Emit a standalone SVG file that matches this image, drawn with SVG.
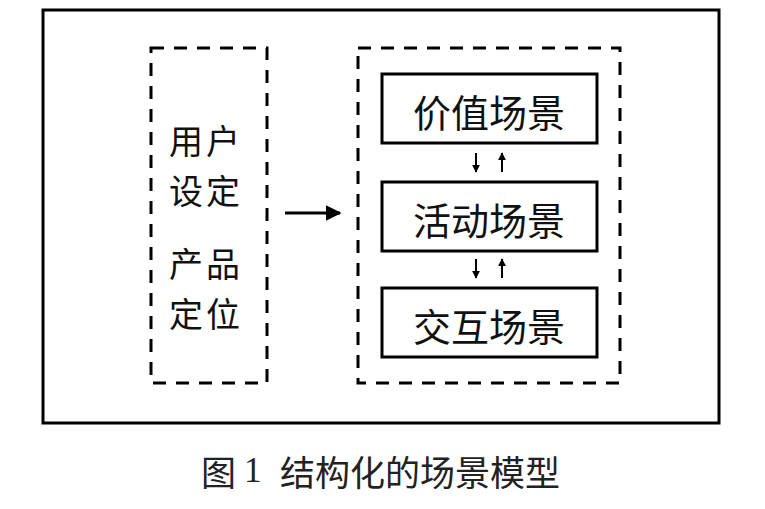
<svg xmlns="http://www.w3.org/2000/svg" width="765" height="509" viewBox="0 0 765 509">
<defs>
<style>
.dash{fill:none;stroke:#000;stroke-width:3;stroke-dasharray:13 10}
.box{fill:#fff;stroke:#000;stroke-width:3}
.t{font-family:"Noto Sans CJK SC","Liberation Serif",serif;font-size:38px;fill:#111;text-anchor:middle;dominant-baseline:central}
.lt{font-family:"Noto Sans CJK SC","Liberation Serif",serif;font-size:34px;letter-spacing:3px;fill:#111;dominant-baseline:central}
.cap{font-family:"Noto Sans CJK SC","Liberation Serif",sans-serif;font-size:35px;fill:#222;dominant-baseline:central}
.sm{stroke:#000;stroke-width:2;fill:none}
</style>
<marker id="ah" viewBox="0 0 10 10" refX="9" refY="5" markerWidth="16" markerHeight="16" markerUnits="userSpaceOnUse" orient="auto">
<path d="M0,0 L10,5 L0,10 z" fill="#000"/>
</marker>
<marker id="sh" viewBox="0 0 10 10" refX="9" refY="5" markerWidth="8" markerHeight="8" markerUnits="userSpaceOnUse" orient="auto">
<path d="M0,0 L10,5 L0,10 z" fill="#000"/>
</marker>
</defs>
<rect width="765" height="509" fill="#fff"/>
<rect id="frame" x="43" y="10" width="676" height="413" fill="none" stroke="#000" stroke-width="3"/>
<g id="left">
<rect class="dash" x="151" y="48" width="116" height="335"/>
<text class="lt" x="169" y="139">用户</text>
<text class="lt" x="169" y="189">设定</text>
<text class="lt" x="169" y="262">产品</text>
<text class="lt" x="169" y="312">定位</text>
</g>
<g id="right">
<rect class="dash" x="358" y="48" width="262" height="335"/>
</g>
<g id="value">
<rect class="box" x="382" y="74" width="215" height="69"/>
<text class="t" x="489" y="110">价值场景</text>
</g>
<g id="activity">
<rect class="box" x="382" y="182" width="215" height="69"/>
<text class="t" x="489" y="218">活动场景</text>
</g>
<g id="interact">
<rect class="box" x="382" y="288" width="215" height="69"/>
<text class="t" x="489" y="324">交互场景</text>
</g>
<g id="connectors">
<line x1="285" y1="213" x2="340" y2="213" stroke="#000" stroke-width="3" marker-end="url(#ah)"/>
<line class="sm" x1="476" y1="153" x2="476" y2="172" marker-end="url(#sh)"/>
<line class="sm" x1="502" y1="172" x2="502" y2="153" marker-end="url(#sh)"/>
<line class="sm" x1="476" y1="259" x2="476" y2="278" marker-end="url(#sh)"/>
<line class="sm" x1="502" y1="278" x2="502" y2="259" marker-end="url(#sh)"/>
</g>
<text class="cap" x="201" y="470">图</text>
<text class="cap" x="244" y="470" style="font-family:'Liberation Serif',serif">1</text>
<text class="cap" x="280" y="470">结构化的场景模型</text>
</svg>
